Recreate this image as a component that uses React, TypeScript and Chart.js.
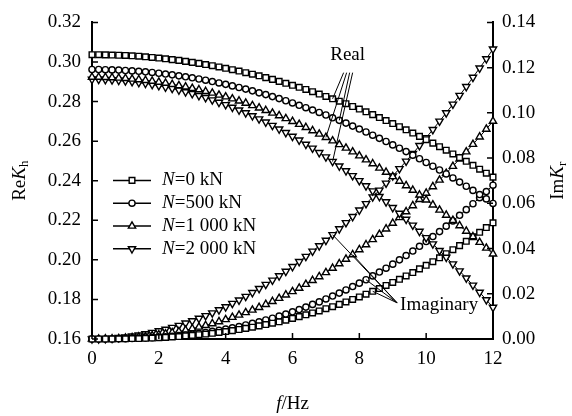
import React, { useEffect, useRef } from 'react';
import { Chart, registerables } from 'chart.js';

Chart.register(...registerables);

// ---------------- data ----------------
const FREQ = [
  0, 0.2, 0.4, 0.6, 0.8, 1.0, 1.2, 1.4, 1.6, 1.8,
  2.0, 2.2, 2.4, 2.6, 2.8, 3.0, 3.2, 3.4, 3.6, 3.8,
  4.0, 4.2, 4.4, 4.6, 4.8, 5.0, 5.2, 5.4, 5.6, 5.8,
  6.0, 6.2, 6.4, 6.6, 6.8, 7.0, 7.2, 7.4, 7.6, 7.8,
  8.0, 8.2, 8.4, 8.6, 8.8, 9.0, 9.2, 9.4, 9.6, 9.8,
  10.0, 10.2, 10.4, 10.6, 10.8, 11.0, 11.2, 11.4, 11.6, 11.8,
  12.0,
];

const REAL_N0 = [
  0.3037, 0.3037, 0.3036, 0.3035, 0.3034, 0.3033, 0.3031, 0.3029, 0.3026, 0.3023,
  0.3020, 0.3016, 0.3012, 0.3008, 0.3003, 0.2998, 0.2993, 0.2987, 0.2981, 0.2975,
  0.2968, 0.2961, 0.2954, 0.2946, 0.2938, 0.2930, 0.2921, 0.2912, 0.2902, 0.2892,
  0.2882, 0.2872, 0.2861, 0.2850, 0.2838, 0.2826, 0.2814, 0.2802, 0.2789, 0.2775,
  0.2762, 0.2748, 0.2734, 0.2719, 0.2704, 0.2689, 0.2673, 0.2657, 0.2641, 0.2624,
  0.2607, 0.2590, 0.2572, 0.2554, 0.2535, 0.2517, 0.2498, 0.2478, 0.2458, 0.2438,
  0.2418,
];
const REAL_N500 = [
  0.2962, 0.2962, 0.2961, 0.2960, 0.2959, 0.2957, 0.2955, 0.2953, 0.2950, 0.2947,
  0.2943, 0.2939, 0.2935, 0.2930, 0.2925, 0.2920, 0.2914, 0.2908, 0.2901, 0.2894,
  0.2887, 0.2879, 0.2871, 0.2863, 0.2854, 0.2844, 0.2835, 0.2825, 0.2815, 0.2804,
  0.2793, 0.2781, 0.2769, 0.2757, 0.2745, 0.2732, 0.2718, 0.2705, 0.2691, 0.2676,
  0.2661, 0.2646, 0.2630, 0.2614, 0.2598, 0.2581, 0.2564, 0.2547, 0.2529, 0.2511,
  0.2492, 0.2473, 0.2454, 0.2434, 0.2414, 0.2393, 0.2372, 0.2351, 0.2330, 0.2308,
  0.2285,
];
const REAL_N1000 = [
  0.2923, 0.2923, 0.2922, 0.2921, 0.2919, 0.2917, 0.2914, 0.2911, 0.2907, 0.2903,
  0.2898, 0.2893, 0.2887, 0.2881, 0.2874, 0.2867, 0.2860, 0.2851, 0.2843, 0.2833,
  0.2824, 0.2814, 0.2803, 0.2792, 0.2780, 0.2768, 0.2755, 0.2742, 0.2729, 0.2714,
  0.2700, 0.2685, 0.2669, 0.2653, 0.2636, 0.2619, 0.2602, 0.2583, 0.2565, 0.2546,
  0.2526, 0.2506, 0.2486, 0.2464, 0.2443, 0.2421, 0.2398, 0.2375, 0.2352, 0.2328,
  0.2303, 0.2278, 0.2252, 0.2226, 0.2200, 0.2173, 0.2145, 0.2117, 0.2089, 0.2060,
  0.2030,
];
const REAL_N2000 = [
  0.2912, 0.2912, 0.2911, 0.2909, 0.2907, 0.2904, 0.2900, 0.2896, 0.2892, 0.2886,
  0.2880, 0.2873, 0.2866, 0.2858, 0.2849, 0.2840, 0.2830, 0.2820, 0.2808, 0.2796,
  0.2784, 0.2771, 0.2757, 0.2743, 0.2728, 0.2712, 0.2696, 0.2679, 0.2661, 0.2643,
  0.2624, 0.2605, 0.2584, 0.2564, 0.2542, 0.2520, 0.2497, 0.2474, 0.2450, 0.2425,
  0.2400, 0.2374, 0.2348, 0.2320, 0.2293, 0.2264, 0.2235, 0.2205, 0.2175, 0.2144,
  0.2112, 0.2080, 0.2047, 0.2013, 0.1979, 0.1944, 0.1908, 0.1872, 0.1836, 0.1798,
  0.1760,
];

const IMAG_N0 = [
  0, 0.0000, 0.0000, 0.0000, 0.0001, 0.0001, 0.0002, 0.0002, 0.0003, 0.0004,
  0.0006, 0.0007, 0.0009, 0.0011, 0.0014, 0.0016, 0.0019, 0.0022, 0.0025, 0.0029,
  0.0033, 0.0037, 0.0042, 0.0047, 0.0052, 0.0058, 0.0064, 0.0070, 0.0076, 0.0083,
  0.0091, 0.0099, 0.0107, 0.0115, 0.0124, 0.0134, 0.0143, 0.0153, 0.0164, 0.0175,
  0.0186, 0.0198, 0.0211, 0.0223, 0.0237, 0.0250, 0.0264, 0.0279, 0.0294, 0.0310,
  0.0326, 0.0342, 0.0359, 0.0377, 0.0395, 0.0413, 0.0432, 0.0452, 0.0472, 0.0493,
  0.0514,
];
const IMAG_N500 = [
  0, 0.0000, 0.0000, 0.0000, 0.0001, 0.0001, 0.0002, 0.0003, 0.0004, 0.0006,
  0.0008, 0.0010, 0.0012, 0.0015, 0.0018, 0.0021, 0.0025, 0.0029, 0.0034, 0.0038,
  0.0044, 0.0049, 0.0055, 0.0062, 0.0069, 0.0076, 0.0084, 0.0092, 0.0101, 0.0110,
  0.0120, 0.0130, 0.0141, 0.0153, 0.0164, 0.0177, 0.0190, 0.0203, 0.0217, 0.0232,
  0.0247, 0.0262, 0.0279, 0.0296, 0.0313, 0.0331, 0.0350, 0.0369, 0.0389, 0.0410,
  0.0431, 0.0453, 0.0475, 0.0499, 0.0522, 0.0547, 0.0572, 0.0598, 0.0625, 0.0652,
  0.0680,
];
const IMAG_N1000 = [
  0, 0.0000, 0.0001, 0.0001, 0.0002, 0.0004, 0.0006, 0.0009, 0.0011, 0.0015,
  0.0019, 0.0023, 0.0028, 0.0033, 0.0039, 0.0046, 0.0053, 0.0060, 0.0068, 0.0077,
  0.0086, 0.0096, 0.0106, 0.0117, 0.0128, 0.0140, 0.0153, 0.0166, 0.0180, 0.0195,
  0.0210, 0.0225, 0.0242, 0.0259, 0.0276, 0.0294, 0.0313, 0.0333, 0.0353, 0.0373,
  0.0395, 0.0417, 0.0440, 0.0463, 0.0487, 0.0512, 0.0537, 0.0563, 0.0590, 0.0617,
  0.0645, 0.0674, 0.0703, 0.0733, 0.0764, 0.0796, 0.0828, 0.0861, 0.0894, 0.0928,
  0.0963,
];
const IMAG_N2000 = [
  0, 0.0000, 0.0001, 0.0003, 0.0006, 0.0009, 0.0013, 0.0017, 0.0023, 0.0029,
  0.0036, 0.0043, 0.0051, 0.0060, 0.0070, 0.0080, 0.0091, 0.0103, 0.0115, 0.0129,
  0.0142, 0.0157, 0.0172, 0.0188, 0.0205, 0.0223, 0.0241, 0.0260, 0.0279, 0.0299,
  0.0320, 0.0342, 0.0365, 0.0388, 0.0412, 0.0436, 0.0461, 0.0487, 0.0514, 0.0541,
  0.0570, 0.0598, 0.0628, 0.0658, 0.0689, 0.0721, 0.0753, 0.0786, 0.0820, 0.0855,
  0.0890, 0.0926, 0.0963, 0.1000, 0.1038, 0.1077, 0.1116, 0.1157, 0.1198, 0.1239,
  0.1282,
];

const SERIES_NAMES = ['0 kN', '500 kN', '1 000 kN', '2 000 kN'];
const X_TICKS = [0, 2, 4, 6, 8, 10, 12];
const Y_LEFT_TICKS = [0.16, 0.18, 0.2, 0.22, 0.24, 0.26, 0.28, 0.3, 0.32];
const Y_RIGHT_TICKS = [0, 0.02, 0.04, 0.06, 0.08, 0.1, 0.12, 0.14];

// annotation anchors (data indices)
const REAL_ARROW_IDX = [36, 37, 35, 36];
const IMAG_ARROW_IDX = [42, 41, 39, 36];

// ---------------- styles ----------------
const FAMILY = '"Liberation Serif", "Times New Roman", Times, serif';
const FS = 19;
const SUB_FS = 13;
const POINT_STYLES = ['rect', 'circle', 'triangle', 'triangle'];
const POINT_ROT = [0, 0, 0, 180];
const POINT_RADII = [4.0, 3.1, 4.2, 4.2];
const POINT_BORDER = 1.4;

type Part = { t: string; italic?: boolean; sub?: boolean };

function fontOf(p: Part) {
  return `${p.italic ? 'italic ' : ''}${p.sub ? SUB_FS : FS}px ${FAMILY}`;
}

function drawRich(ctx: CanvasRenderingContext2D, parts: Part[], x: number, y: number, align: 'left' | 'center') {
  ctx.textBaseline = 'middle';
  ctx.textAlign = 'left';
  const widths = parts.map((p) => {
    ctx.font = fontOf(p);
    return ctx.measureText(p.t).width;
  });
  const total = widths.reduce((a, b) => a + b, 0);
  let cx = align === 'center' ? x - total / 2 : x;
  parts.forEach((p, i) => {
    ctx.font = fontOf(p);
    ctx.fillText(p.t, cx, y + (p.sub ? 5 : 0));
    cx += widths[i];
  });
}

function drawMarker(ctx: CanvasRenderingContext2D, style: number, x: number, y: number) {
  const r = POINT_RADII[style];
  ctx.beginPath();
  if (style === 0) {
    const s = Math.SQRT1_2 * r;
    ctx.rect(x - s, y - s, 2 * s, 2 * s);
  } else if (style === 1) {
    ctx.arc(x, y, r, 0, Math.PI * 2);
  } else {
    const dir = style === 3 ? -1 : 1;
    ctx.moveTo(x, y - dir * r);
    ctx.lineTo(x + r * Math.sin((2 * Math.PI) / 3), y + dir * r * 0.5);
    ctx.lineTo(x - r * Math.sin((2 * Math.PI) / 3), y + dir * r * 0.5);
    ctx.closePath();
  }
  ctx.fillStyle = '#fff';
  ctx.fill();
  ctx.lineWidth = POINT_BORDER;
  ctx.strokeStyle = '#000';
  ctx.stroke();
}

const overlayPlugin = {
  id: 'overlay',
  afterDraw(chart: any) {
    const ctx: CanvasRenderingContext2D = chart.ctx;
    const { left, right, top, bottom } = chart.chartArea;
    const xs = chart.scales.x;
    const yl = chart.scales.y;
    const yr = chart.scales.y1;
    ctx.save();
    ctx.fillStyle = '#000';
    ctx.strokeStyle = '#000';

    // inward tick marks
    ctx.lineWidth = 1.5;
    ctx.beginPath();
    X_TICKS.forEach((v) => {
      const px = xs.getPixelForValue(v);
      ctx.moveTo(px, bottom);
      ctx.lineTo(px, bottom - 6);
    });
    Y_LEFT_TICKS.forEach((v) => {
      const py = yl.getPixelForValue(v);
      ctx.moveTo(left, py);
      ctx.lineTo(left + 6, py);
    });
    Y_RIGHT_TICKS.forEach((v) => {
      const py = yr.getPixelForValue(v);
      ctx.moveTo(right, py);
      ctx.lineTo(right - 6, py);
    });
    ctx.stroke();

    // axis titles
    ctx.fillStyle = '#000';
    drawRich(ctx, [{ t: 'f', italic: true }, { t: '/Hz' }], (left + right) / 2, 404, 'center');
    ctx.save();
    ctx.translate(20, (top + bottom) / 2);
    ctx.rotate(-Math.PI / 2);
    drawRich(ctx, [{ t: 'Re' }, { t: 'K', italic: true }, { t: 'h', sub: true }], 0, 0, 'center');
    ctx.restore();
    ctx.save();
    ctx.translate(558, (top + bottom) / 2);
    ctx.rotate(-Math.PI / 2);
    drawRich(ctx, [{ t: 'Im' }, { t: 'K', italic: true }, { t: 'r', sub: true }], 0, 0, 'center');
    ctx.restore();

    // legend
    SERIES_NAMES.forEach((name, i) => {
      const y = top + 158 + i * 22.8;
      const x0 = left + 21;
      ctx.beginPath();
      ctx.lineWidth = 1.5;
      ctx.strokeStyle = '#000';
      ctx.moveTo(x0, y);
      ctx.lineTo(x0 + 38, y);
      ctx.stroke();
      drawMarker(ctx, i, x0 + 19, y);
      ctx.fillStyle = '#000';
      drawRich(ctx, [{ t: 'N', italic: true }, { t: '=' + name }], x0 + 49, y, 'left');
    });

    // annotations
    const realSets = [REAL_N0, REAL_N500, REAL_N1000, REAL_N2000];
    const imagSets = [IMAG_N0, IMAG_N500, IMAG_N1000, IMAG_N2000];
    const realLabelX = xs.getPixelForValue(7.65);
    const realLabelY = yl.getPixelForValue(0.3037);
    ctx.fillStyle = '#000';
    drawRich(ctx, [{ t: 'Real' }], realLabelX, realLabelY, 'center');
    const realStart = [-4, 2, -1, 5];
    ctx.lineWidth = 1;
    ctx.strokeStyle = '#000';
    ctx.beginPath();
    REAL_ARROW_IDX.forEach((idx, k) => {
      const ex = xs.getPixelForValue(FREQ[idx]);
      const ey = yl.getPixelForValue(realSets[k][idx]);
      ctx.moveTo(realLabelX + realStart[k], realLabelY + 18);
      ctx.lineTo(ex, ey);
    });
    ctx.stroke();

    const imLabelX = xs.getPixelForValue(9.22);
    const imLabelY = yr.getPixelForValue(0.0151);
    drawRich(ctx, [{ t: 'Imaginary' }], imLabelX, imLabelY, 'left');
    ctx.beginPath();
    IMAG_ARROW_IDX.forEach((idx, k) => {
      const ex = xs.getPixelForValue(FREQ[idx]);
      const ey = yr.getPixelForValue(imagSets[k][idx]);
      ctx.moveTo(imLabelX - 3, imLabelY - 2);
      ctx.lineTo(ex, ey);
    });
    ctx.stroke();

    ctx.restore();
  },
};

function makeSet(values: number[], style: number, axis: string) {
  return {
    data: values.map((v, i) => ({ x: FREQ[i], y: v })),
    yAxisID: axis,
    borderColor: '#000',
    borderWidth: 1,
    backgroundColor: '#fff',
    pointStyle: POINT_STYLES[style],
    pointRotation: POINT_ROT[style],
    pointRadius: POINT_RADII[style],
    pointBackgroundColor: '#fff',
    pointBorderColor: '#000',
    pointBorderWidth: POINT_BORDER,
    pointHoverRadius: POINT_RADII[style],
    tension: 0,
    fill: false,
    clip: false as any,
  };
}

export default function App() {
  const ref = useRef<HTMLCanvasElement>(null);
  useEffect(() => {
    const canvas = ref.current!;
    const tickFont = { family: FAMILY, size: FS };
    const chart = new Chart(canvas, {
      type: 'line',
      data: {
        datasets: [
          makeSet(REAL_N0, 0, 'y'),
          makeSet(REAL_N500, 1, 'y'),
          makeSet(REAL_N1000, 2, 'y'),
          makeSet(REAL_N2000, 3, 'y'),
          makeSet(IMAG_N0, 0, 'y1'),
          makeSet(IMAG_N500, 1, 'y1'),
          makeSet(IMAG_N1000, 2, 'y1'),
          makeSet(IMAG_N2000, 3, 'y1'),
        ] as any,
      },
      options: {
        responsive: false,
        animation: false,
        devicePixelRatio: 1,
        events: [],
        layout: { padding: { top: 15, left: 0, right: 0, bottom: 0 } },
        plugins: { legend: { display: false }, tooltip: { enabled: false } },
        scales: {
          x: {
            type: 'linear',
            position: 'bottom',
            min: 0,
            max: 12,
            afterBuildTicks: (s: any) => {
              s.ticks = X_TICKS.map((v) => ({ value: v }));
            },
            ticks: {
              color: '#000',
              font: tickFont,
              padding: 9,
              maxRotation: 0,
              autoSkip: false,
              callback: (v: any) => String(v),
            },
            grid: { drawOnChartArea: false, drawTicks: false },
            border: { display: true, color: '#000', width: 2 },
            afterFit: (s: any) => {
              s.height = 77;
            },
          },
          y: {
            type: 'linear',
            position: 'left',
            min: 0.16,
            max: 0.32,
            afterBuildTicks: (s: any) => {
              s.ticks = Y_LEFT_TICKS.map((v) => ({ value: v }));
            },
            ticks: {
              color: '#000',
              font: tickFont,
              padding: 11,
              autoSkip: false,
              callback: (v: any) => Number(v).toFixed(2),
            },
            grid: { drawOnChartArea: false, drawTicks: false },
            border: { display: true, color: '#000', width: 2 },
            afterFit: (s: any) => {
              s.width = 92;
            },
          },
          y1: {
            type: 'linear',
            position: 'right',
            min: 0,
            max: 0.14,
            afterBuildTicks: (s: any) => {
              s.ticks = Y_RIGHT_TICKS.map((v) => ({ value: v }));
            },
            ticks: {
              color: '#000',
              font: tickFont,
              padding: 9,
              autoSkip: false,
              callback: (v: any) => Number(v).toFixed(2),
            },
            grid: { drawOnChartArea: false, drawTicks: false },
            border: { display: true, color: '#000', width: 2 },
            afterFit: (s: any) => {
              s.width = 79;
            },
          },
        },
      } as any,
      plugins: [overlayPlugin],
    });
    return () => chart.destroy();
  }, []);
  return (
    <div style={{ position: 'fixed', left: 0, top: 0, width: 572, height: 416, background: '#fff' }}>
      <canvas ref={ref} width={572} height={416} style={{ width: 572, height: 416, display: 'block' }} />
    </div>
  );
}
